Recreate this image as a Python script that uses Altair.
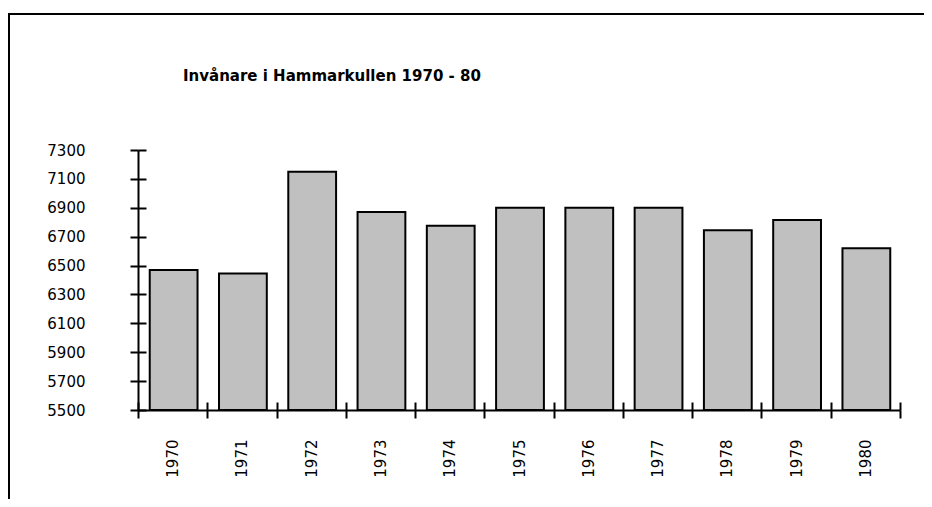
import altair as alt
import pandas as pd

years = ["1970", "1971", "1972", "1973", "1974", "1975", "1976", "1977", "1978", "1979", "1980"]
inhabitants = [6470, 6445, 7150, 6870, 6775, 6900, 6900, 6900, 6745, 6815, 6620]
y_ticks = [5500, 5700, 5900, 6100, 6300, 6500, 6700, 6900, 7100, 7300]
title_text = "Invånare i Hammarkullen 1970 - 80"

df = pd.DataFrame({"year": years, "value": inhabitants})
title_df = pd.DataFrame({"t": [title_text]})

FONT = "DejaVu Sans"

x_scale = alt.Scale(paddingInner=0, paddingOuter=0)
y_scale = alt.Scale(domain=[y_ticks[0], y_ticks[-1]], nice=False, zero=False)

base = alt.Chart(df)

bars = base.mark_bar(
    fill="#c0c0c0", stroke="black", strokeWidth=2, width=alt.RelativeBandSize(0.69), xOffset=1
).encode(
    x=alt.X("year:N", scale=x_scale, sort=years, axis=alt.Axis(
        title=None, orient="bottom", labelAngle=-90, tickBand="extent",
        tickSize=8, tickWidth=2, tickColor="black", domainColor="black", domainWidth=2,
        labelPadding=21, labelFont=FONT, labelFontSize=15, labelColor="black", grid=False)),
    y=alt.Y("value:Q", scale=y_scale, axis=alt.Axis(
        title=None, orient="left", values=y_ticks, format="d", tickSize=8, tickWidth=2,
        tickColor="black", domainColor="black", domainWidth=2, labelPadding=45,
        labelFont=FONT, labelFontSize=15, labelColor="black", grid=False)),
    y2=alt.datum(y_ticks[0]),
)

inner = base.mark_bar(opacity=0).encode(
    x=alt.X("year:N", scale=x_scale, sort=years, axis=alt.Axis(
        title=None, orient="bottom", offset=-8, tickBand="extent", tickSize=8, tickWidth=2,
        tickColor="black", domain=False, labels=False, grid=False)),
    y=alt.Y("value:Q", scale=y_scale, axis=alt.Axis(
        title=None, orient="left", offset=-8, values=y_ticks, tickSize=8, tickWidth=2,
        tickColor="black", domain=False, labels=False, grid=False)),
)

title_mark = alt.Chart(title_df).mark_text(
    align="left", baseline="middle", font=FONT, fontSize=15, fontWeight="bold", color="black"
).encode(x=alt.value(45), y=alt.value(-74), text="t:N")

frame_top = alt.Chart(title_df).mark_rule(color="black", strokeWidth=2).encode(
    x=alt.value(-129), x2=alt.value(900), y=alt.value(-136)
)
frame_left = alt.Chart(title_df).mark_rule(color="black", strokeWidth=2).encode(
    x=alt.value(-129), y=alt.value(-137), y2=alt.value(400)
)

chart = alt.layer(inner, bars, title_mark, frame_top, frame_left).resolve_axis(
    x="independent", y="independent"
).properties(
    width=762,
    height=260,
    background="white",
    autosize=alt.AutoSizeParams(type="none"),
    padding={"left": 130, "top": 142, "right": 24, "bottom": 89},
).configure_view(stroke=None)

chart.save("out.html", embed_options={"renderer": "svg", "actions": False})
